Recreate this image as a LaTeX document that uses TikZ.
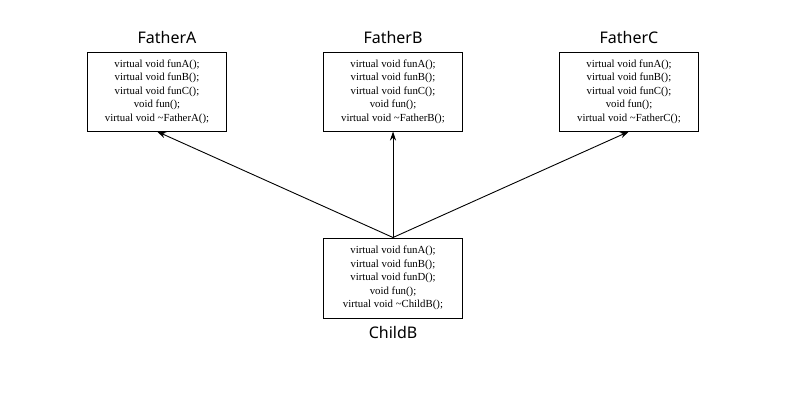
\documentclass[tikz,border=0pt]{standalone}
\usepackage{fontspec}
\setmainfont{Liberation Serif}
\newfontfamily\titlefont{Noto Sans}
\usetikzlibrary{arrows.meta}
\begin{document}
\begin{tikzpicture}[x=1pt,y=-1pt,
  classbox/.style={draw,line width=1pt,minimum width=139pt,minimum height=79pt,
    align=center,font=\fontsize{10.8}{13.5}\selectfont,inner sep=0pt},
  classtitle/.style={font=\titlefont\fontsize{16}{18}\selectfont,inner sep=0pt},
  inherit/.style={-{Stealth[length=9pt,width=6pt]},line width=0.9pt}]
\useasboundingbox (0,0) rectangle (800,400);
\node[classbox] (A) at (157,91.5) {virtual void funA();\\virtual void funB();\\virtual void funC();\\void fun();\\virtual void \textasciitilde FatherA();};
\node[classbox] (B) at (393,91.5) {virtual void funA();\\virtual void funB();\\virtual void funC();\\void fun();\\virtual void \textasciitilde FatherB();};
\node[classbox] (C) at (629,91.5) {virtual void funA();\\virtual void funB();\\virtual void funC();\\void fun();\\virtual void \textasciitilde FatherC();};
\node[classbox,minimum height=80pt] (D) at (393,278) {virtual void funA();\\virtual void funB();\\virtual void funD();\\void fun();\\virtual void \textasciitilde ChildB();};
\node[classtitle] (tA) at (167,37) {FatherA};
\node[classtitle] (tB) at (393,37) {FatherB};
\node[classtitle] (tC) at (629,37) {FatherC};
\node[classtitle] (tD) at (393,332) {ChildB};
\draw[inherit] (D.north) -- (A.south);
\draw[inherit] (D.north) -- (B.south);
\draw[inherit] (D.north) -- (C.south);
\end{tikzpicture}
\end{document}
